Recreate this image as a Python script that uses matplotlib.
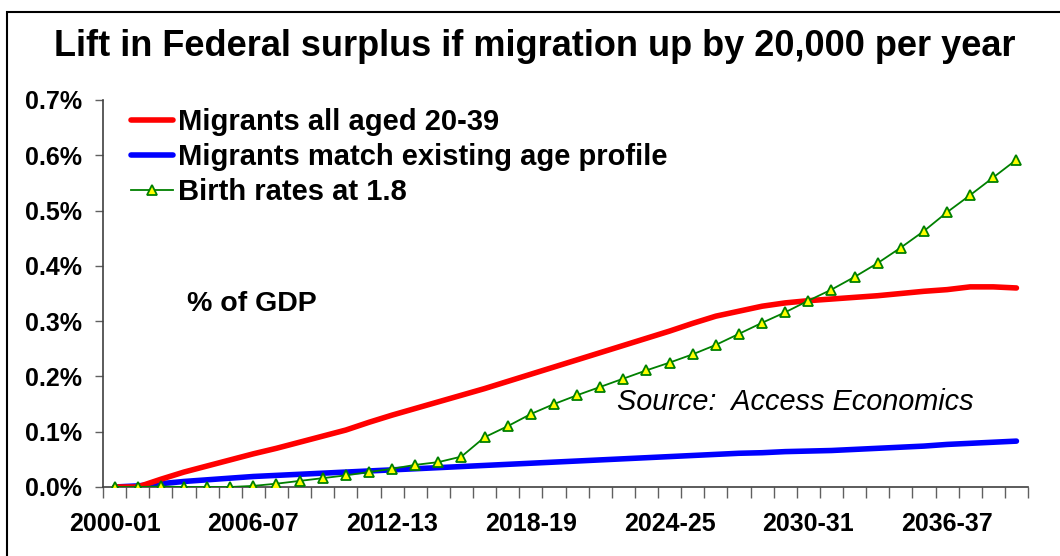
import matplotlib
matplotlib.use("Agg")
import matplotlib.pyplot as plt
import numpy as np
from matplotlib.ticker import FuncFormatter, MultipleLocator, FixedLocator
from matplotlib.patches import Rectangle

plt.rcParams['font.family'] = ['Liberation Sans', 'DejaVu Sans']

# financial years 2000-01 .. 2039-40
years = ["%d-%02d" % (y, (y + 1) % 100) for y in range(2000, 2040)]

# % of GDP
young = [0.0, 0.0, 0.014, 0.027, 0.038, 0.049, 0.060, 0.070, 0.081, 0.092,
         0.103, 0.117, 0.130, 0.142, 0.154, 0.166, 0.178, 0.191, 0.204, 0.217,
         0.230, 0.243, 0.256, 0.269, 0.282, 0.296, 0.309, 0.318, 0.327, 0.333,
         0.337, 0.340, 0.343, 0.346, 0.350, 0.354, 0.357, 0.362, 0.362, 0.360]
existing = [0.0, 0.002, 0.006, 0.010, 0.013, 0.016, 0.019, 0.021, 0.023, 0.025,
            0.027, 0.029, 0.031, 0.033, 0.035, 0.037, 0.039, 0.041, 0.043, 0.045,
            0.047, 0.049, 0.051, 0.053, 0.055, 0.057, 0.059, 0.061, 0.062, 0.064,
            0.065, 0.066, 0.068, 0.070, 0.072, 0.074, 0.077, 0.079, 0.081, 0.083]
births = [0.0, 0.0, 0.001, 0.0, 0.0, 0.0, 0.002, 0.006, 0.011, 0.016,
          0.021, 0.027, 0.033, 0.040, 0.045, 0.055, 0.090, 0.110, 0.132, 0.150,
          0.166, 0.181, 0.196, 0.211, 0.225, 0.240, 0.257, 0.277, 0.297, 0.316,
          0.337, 0.357, 0.380, 0.405, 0.433, 0.463, 0.497, 0.528, 0.560, 0.592]

labels = ["Migrants all aged 20-39", "Migrants match existing age profile", "Birth rates at 1.8"]

W, H = 1060, 556
fig = plt.figure(figsize=(W / 100, H / 100), dpi=100)
ax = fig.add_axes([103 / W, 1 - 487 / H, (1028 - 103) / W, (487 - 100) / H])

x = np.arange(len(years))
ax.plot(x, young, color="#ff0000", lw=4.0, solid_capstyle="round", label=labels[0], zorder=3)
ax.plot(x, existing, color="#0000ff", lw=4.0, solid_capstyle="round", label=labels[1], zorder=2)
ax.plot(x, births, color="#008000", lw=1.3, marker="^", ms=7.5, mfc="#ffff00",
        mec="#008000", mew=1.3, label=labels[2], zorder=4)

ax.set_xlim(-0.5, len(years) - 0.5)
ax.set_ylim(0, 0.7)
ax.yaxis.set_major_locator(MultipleLocator(0.1))
ax.yaxis.set_major_formatter(FuncFormatter(lambda v, p: "%.1f%%" % v))

ax.xaxis.set_minor_locator(FixedLocator(np.arange(-0.5, len(years), 1.0)))
ax.xaxis.set_major_locator(FixedLocator(x[::6]))
ax.set_xticklabels(years[::6])
ax.tick_params(axis="x", which="major", length=0, pad=18, labelsize=18)
ax.tick_params(axis="x", which="minor", length=8, width=1, color="#606060")
ax.tick_params(axis="y", length=6, width=1, color="#606060", labelsize=18, pad=9)
for t in ax.get_xticklabels() + ax.get_yticklabels():
    t.set_fontweight("bold")

for s in ["top", "right"]:
    ax.spines[s].set_visible(False)
for s in ["left", "bottom"]:
    ax.spines[s].set_color("#404040")
    ax.spines[s].set_linewidth(1.2)

leg = ax.legend(loc="upper left", bbox_to_anchor=(131 / W, 1 - 108 / H), bbox_transform=fig.transFigure,
                frameon=False, prop={"weight": "bold", "size": 21}, handlelength=1.45,
                handletextpad=0.15, labelspacing=0.24, borderaxespad=0, borderpad=0)

fig.text(535 / W, 1 - 46 / H, "Lift in Federal surplus if migration up by 20,000 per year",
         ha="center", va="center", fontsize=26, fontweight="bold")
fig.text(187 / W, 1 - 304 / H, "% of GDP", ha="left", va="center", fontsize=20.5, fontweight="bold")
fig.text(617 / W, 1 - 402 / H, "Source:  Access Economics", ha="left", va="center",
         fontsize=20.8, fontstyle="italic")

fig.patches.append(Rectangle((7 / W, -0.1), 1.2, 1.1 - 12 / H, transform=fig.transFigure,
                             fill=False, edgecolor="black", lw=1.5))

fig.savefig("out.png", dpi=100)
